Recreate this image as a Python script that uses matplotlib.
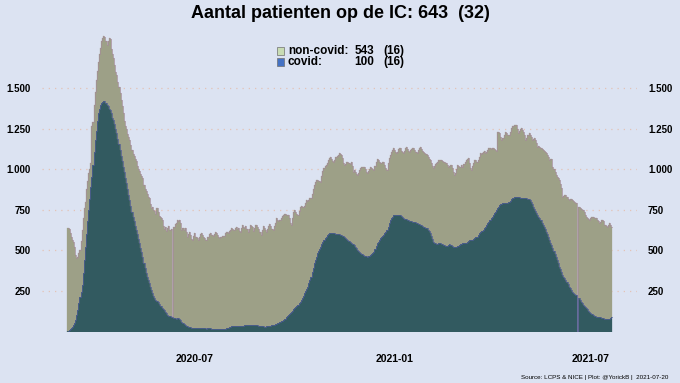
import numpy as np
import matplotlib
matplotlib.use("Agg")
import matplotlib.pyplot as plt
import matplotlib.dates as mdates
from matplotlib.patches import Rectangle
from matplotlib.ticker import FuncFormatter

startdatum = "2020-03-06"

covid = [
    3, 8, 15, 22, 30, 42, 55,
    71, 100, 135, 176, 210, 245, 287,
    360, 440, 523, 600, 680, 750, 820,
    890, 955, 1030, 1110, 1181, 1240, 1300,
    1346, 1375, 1395, 1408, 1415, 1420, 1424,
    1410, 1400, 1390, 1375, 1367, 1345, 1320,
    1305, 1280, 1250, 1223, 1190, 1155, 1120,
    1085, 1050, 1017, 985, 950, 914, 880,
    845, 811, 775, 740, 708, 680, 650,
    626, 600, 572, 544, 515, 490, 462,
    425, 390, 359, 335, 315, 297, 275,
    255, 236, 222, 208, 194, 188, 184,
    170, 160, 155, 145, 138, 133, 122,
    112, 102, 98, 94, 91, 88, 85,
    82, 81, 80, 81, 81, 75, 68,
    60, 52, 46, 41, 37, 34, 30,
    28, 26, 24, 22, 21, 20, 20,
    20, 19, 20, 20, 21, 20, 19,
    20, 19, 18, 19, 20, 19, 18,
    16, 15, 14, 14, 14, 13, 14,
    14, 14, 15, 14, 16, 18, 19,
    20, 22, 25, 30, 31, 32, 34,
    34, 33, 34, 35, 34, 34, 35,
    36, 37, 38, 40, 39, 40, 41,
    40, 39, 40, 41, 42, 40, 38,
    38, 36, 34, 33, 32, 31, 30,
    30, 31, 32, 34, 35, 36, 38,
    40, 42, 45, 48, 51, 54, 57,
    60, 63, 66, 71, 80, 90, 96,
    102, 108, 115, 122, 129, 136, 143,
    150, 156, 163, 173, 184, 194, 208,
    222, 236, 250, 263, 277, 298, 318,
    338, 366, 394, 421, 442, 462, 482,
    496, 510, 523, 537, 551, 565, 575,
    585, 595, 600, 605, 610, 609, 607,
    606, 605, 603, 602, 601, 599, 597,
    595, 592, 588, 585, 578, 572, 565,
    558, 551, 544, 540, 537, 534, 524,
    513, 503, 496, 489, 482, 476, 471,
    466, 464, 463, 462, 465, 468, 472,
    478, 485, 492, 510, 527, 544, 555,
    565, 575, 582, 589, 595, 605, 616,
    626, 647, 667, 688, 698, 709, 719,
    719, 720, 719, 720, 719, 719, 712,
    705, 698, 696, 694, 692, 689, 686,
    684, 682, 680, 678, 676, 674, 672,
    671, 666, 662, 657, 654, 650, 647,
    644, 640, 637, 627, 617, 606, 589,
    571, 554, 549, 545, 540, 541, 543,
    544, 540, 537, 534, 531, 529, 527,
    530, 535, 540, 535, 528, 523, 522,
    521, 523, 526, 530, 534, 537, 540,
    544, 545, 546, 548, 553, 559, 565,
    565, 564, 565, 571, 578, 580, 585,
    595, 606, 616, 620, 623, 626, 636,
    647, 657, 667, 678, 688, 698, 709,
    719, 729, 740, 750, 760, 770, 780,
    784, 788, 791, 791, 790, 791, 795,
    798, 801, 808, 815, 822, 826, 829,
    832, 831, 829, 827, 825, 823, 822,
    822, 823, 822, 822, 818, 815, 811,
    798, 784, 770, 756, 743, 729, 719,
    708, 698, 685, 671, 657, 643, 630,
    616, 600, 583, 565, 548, 531, 513,
    496, 479, 462, 441, 420, 400, 383,
    366, 349, 339, 328, 318, 304, 291,
    277, 267, 256, 246, 239, 232, 225,
    225, 0, 204, 194, 184, 173, 163,
    156, 150, 143, 136, 129, 122, 115,
    108, 102, 98, 95, 91, 90, 89,
    88, 87, 85, 83, 81, 79, 77,
    75, 76, 78, 81, 91,
]

# totaal (covid + non-covid), top van de gestapelde staaf
totaal = [
    640, 632, 610, 585, 565, 555, 520,
    470, 455, 462, 485, 505, 560, 625,
    700, 760, 800, 880, 930, 980, 1000,
    1040, 1270, 1290, 1400, 1480, 1550, 1610,
    1660, 1710, 1750, 1790, 1812, 1820, 1815,
    1790, 1770, 1795, 1812, 1805, 1745, 1715,
    1690, 1645, 1600, 1580, 1540, 1510, 1470,
    1430, 1390, 1350, 1300, 1270, 1250, 1220,
    1200, 1180, 1150, 1120, 1095, 1080, 1062,
    1050, 1020, 1000, 990, 972, 960, 950,
    905, 880, 865, 850, 830, 822, 785,
    762, 770, 750, 742, 722, 760, 735,
    712, 705, 700, 690, 650, 635, 645,
    622, 640, 650, 626, 632, 88, 646,
    647, 665, 672, 688, 680, 685, 670,
    626, 640, 628, 638, 612, 585, 600,
    616, 598, 572, 565, 590, 606, 584,
    575, 565, 580, 600, 606, 598, 585,
    575, 566, 565, 580, 600, 606, 598,
    595, 590, 602, 616, 608, 595, 580,
    575, 583, 592, 590, 588, 605, 616,
    616, 610, 618, 625, 638, 632, 626,
    640, 647, 635, 638, 620, 616, 640,
    657, 647, 640, 650, 630, 616, 630,
    657, 650, 645, 620, 640, 657, 655,
    647, 630, 612, 595, 625, 651, 640,
    628, 616, 630, 650, 663, 648, 635,
    626, 650, 672, 698, 690, 680, 688,
    688, 700, 712, 719, 724, 720, 719,
    719, 700, 670, 657, 700, 735, 750,
    740, 725, 719, 745, 770, 772, 765,
    770, 774, 790, 811, 805, 812, 822,
    822, 850, 880, 904, 925, 935, 935,
    930, 928, 924, 960, 990, 1007, 1020,
    1030, 1038, 1055, 1070, 1078, 1065, 1052,
    1048, 1060, 1075, 1085, 1089, 1100, 1092,
    1089, 1070, 1040, 1027, 1035, 1045, 1048,
    1040, 1035, 1048, 1020, 986, 996, 985,
    970, 966, 975, 995, 1007, 1012, 1015,
    1017, 1000, 985, 976, 990, 1005, 1017,
    1010, 1000, 996, 1020, 1045, 1062, 1055,
    1045, 1038, 1042, 1048, 1046, 1030, 1010,
    996, 1040, 1070, 1089, 1105, 1120, 1130,
    1118, 1105, 1099, 1110, 1125, 1130, 1115,
    1105, 1099, 1115, 1130, 1140, 1125, 1115,
    1109, 1120, 1128, 1130, 1120, 1110, 1105,
    1099, 1120, 1135, 1140, 1128, 1115, 1109,
    1100, 1095, 1089, 1075, 1065, 1058, 1040,
    1020, 1007, 1020, 1032, 1038, 1048, 1055,
    1058, 1055, 1050, 1048, 1045, 1040, 1038,
    1025, 1017, 1020, 1027, 1010, 985, 966,
    975, 1000, 1027, 1020, 1015, 1017, 1030,
    1017, 1035, 1048, 1055, 1062, 1068, 1040,
    1010, 996, 1020, 1040, 1058, 1055, 1048,
    1060, 1075, 1099, 1095, 1099, 1105, 1115,
    1099, 1110, 1120, 1130, 1135, 1128, 1130,
    1130, 1125, 1120, 1115, 1233, 1228, 1223,
    1200, 1181, 1195, 1215, 1233, 1225, 1212,
    1210, 1212, 1230, 1254, 1265, 1270, 1274,
    1274, 1250, 1223, 1235, 1250, 1254, 1245,
    1230, 1210, 1181, 1195, 1210, 1223, 1215,
    1200, 1181, 1190, 1192, 1180, 1160, 1140,
    1145, 1140, 1130, 1125, 1120, 1115, 1109,
    1100, 1089, 1075, 1058, 1062, 1062, 1017,
    1000, 985, 966, 955, 945, 935, 910,
    884, 832, 835, 840, 842, 830, 820,
    811, 815, 820, 811, 805, 801, 795,
    790, 0, 765, 760, 755, 752, 750,
    740, 720, 708, 700, 695, 688, 698,
    705, 708, 700, 698, 698, 690, 680,
    667, 675, 685, 688, 680, 660, 650,
    647, 655, 667, 660, 645,
]

# stand van vandaag en verschil met gisteren
totaal_nu, totaal_delta = 643, 32
noncovid_nu, noncovid_delta = 543, 16
covid_nu, covid_delta = 100, 16

x_ticks = ["2020-07-01", "2021-01-01", "2021-07-01"]
x_labels = ["2020-07", "2021-01", "2021-07"]
y_ticks = [250, 500, 750, 1000, 1250, 1500]

bron = "Source: LCPS & NICE | Plot: @YorickB |  2021-07-20"

BG = "#dce3f2"
C_NONCOVID = "#9da087"
C_COVID = "#325a60"

plt.rcParams["font.family"] = ["Liberation Sans Narrow", "Liberation Sans", "DejaVu Sans"]
plt.rcParams["font.weight"] = "bold"

covid = np.array(covid, dtype=float)
totaal = np.array(totaal, dtype=float)
noncovid = totaal - covid
dagen = np.datetime64(startdatum) + np.arange(len(covid))
xd = mdates.date2num(dagen)

fig = plt.figure(figsize=(6.8, 3.83), dpi=100, facecolor=BG)
ax = fig.add_axes([42 / 680, 51.5 / 383, 595 / 680, 301.5 / 383])
ax.set_facecolor(BG)

ax.bar(xd, covid, width=1.0, color=C_COVID, edgecolor=C_COVID, linewidth=0.2, zorder=2)
ax.bar(xd, noncovid, bottom=covid, width=1.0, color=C_NONCOVID,
       edgecolor=C_NONCOVID, linewidth=0.2, zorder=2)
# dunne randjes langs de bovenkant van de staven
ax.step(xd, totaal, where="mid", color="#a48c98", lw=0.5, zorder=3)
ax.step(xd, covid, where="mid", color="#4c5a96", lw=0.5, zorder=3)

ax.set_ylim(0, 1860)
ax.set_xlim(xd[0] - 24, xd[-1] + 23.5)

ax.set_yticks(y_ticks)
ax.yaxis.set_major_formatter(FuncFormatter(lambda v, p: f"{int(v):,}".replace(",", ".")))
ax.tick_params(axis="y", length=0, labelsize=7, labelleft=True, labelright=True, pad=8)
ax.grid(axis="y", color="#e3c3b6", linestyle=(0, (1, 4)), linewidth=0.9)
ax.set_axisbelow(True)

ax.set_xticks(mdates.date2num(np.array(x_ticks, dtype="datetime64[D]")))
ax.set_xticklabels(x_labels)
ax.tick_params(axis="x", length=0, labelsize=7.5, pad=16)

for s in ax.spines.values():
    s.set_visible(False)

fig.text(0.5, 1 - 13 / 383, f"Aantal patienten op de IC: {totaal_nu}  ({totaal_delta})",
         ha="center", va="center", fontsize=13, fontweight="bold")

# legenda, handmatig opgebouwd
rijen = [("non-covid:", noncovid_nu, noncovid_delta, "#c8dcb4", 51),
         ("covid:", covid_nu, covid_delta, "#4472c4", 62)]
for label, nu, delta, kleur, yy in rijen:
    fig.patches.append(Rectangle((277 / 680, 1 - (yy + 4) / 383), 7 / 680, 8 / 383,
                                 transform=fig.transFigure, facecolor=kleur,
                                 edgecolor="#707070", linewidth=0.5))
    fig.text(288 / 680, 1 - yy / 383, label, ha="left", va="center", fontsize=8.5)
    fig.text(374 / 680, 1 - yy / 383, f"{nu}", ha="right", va="center", fontsize=8.5)
    fig.text(383 / 680, 1 - yy / 383, f"({delta})", ha="left", va="center", fontsize=8.5)

fig.text(668 / 680, 1 - 377 / 383, bron, ha="right", va="center", fontsize=4.5,
         fontweight="normal")

fig.savefig("out.png", dpi=100, facecolor=BG)
